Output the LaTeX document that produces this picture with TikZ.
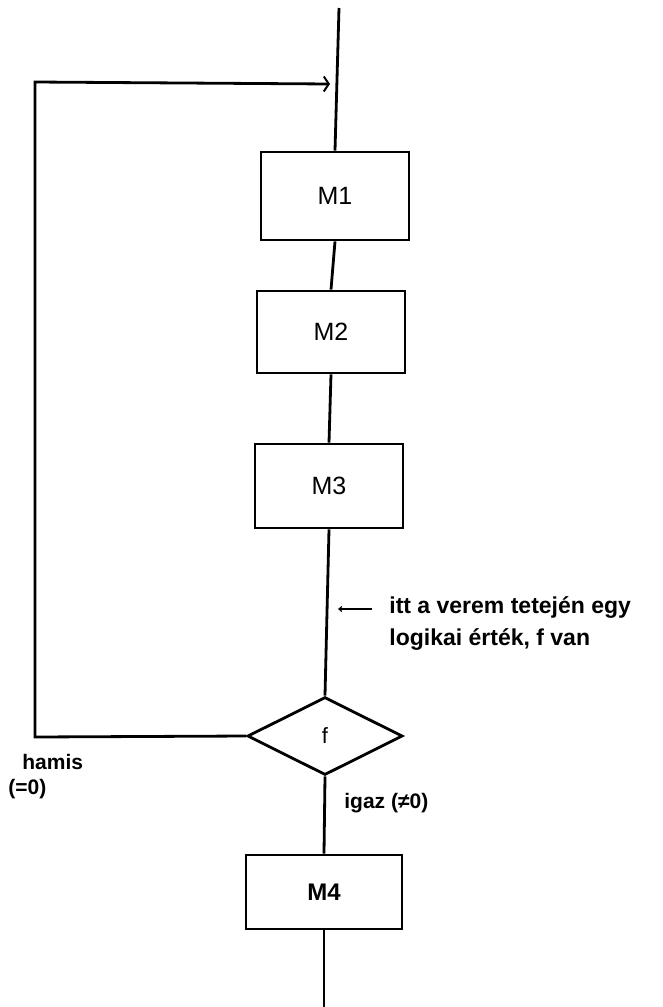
\documentclass[tikz,border=0pt]{standalone}
\usepackage{fontspec}
\setmainfont{Liberation Sans}
\usetikzlibrary{shapes.geometric,arrows.meta}
\begin{document}
\begin{tikzpicture}[x=1pt,y=-1pt,
  line width=2.8pt,
  blk/.style={draw,minimum width=148pt,minimum height=86pt,inner sep=0pt,font=\fontsize{25}{29}\selectfont},
  lbl/.style={font=\bfseries\fontsize{21}{25}\selectfont,inner sep=0pt}]
\path[use as bounding box] (0,0) rectangle (662,1007);
\coordinate (top) at (339,8);
\node[blk,minimum height=88pt] (m1) at (335,196) {M1};
\node[blk,minimum height=82pt] (m2) at (331,332) {M2};
\node[blk,minimum height=84pt] (m3) at (329,486) {M3};
\node[draw,diamond,aspect=2,minimum width=155pt,minimum height=78pt,inner sep=0pt,font=\fontsize{22}{24}\selectfont] (f) at (325,736) {f};
\node[blk,minimum width=156pt,minimum height=74pt,font=\bfseries\fontsize{24}{28}\selectfont] (m4) at (324,892) {M4};
\coordinate (bot) at (324,1007);
\coordinate (c1) at (35,737);
\coordinate (c2) at (35,82);
\coordinate (c3) at (330,84);
\draw (top) -- (m1.north);
\draw (m1.south) -- (m2.north);
\draw (m2.south) -- (m3.north);
\draw (m3.south) -- (f.north);
\draw (f.south) -- (m4.north);
\draw (m4.south) -- (bot);
\draw[-{Straight Barb[length=5pt,width=15pt,line width=2pt]}] (f.west) -- (c1) -- (c2) -- (c3);
\coordinate (a1) at (372,609);
\coordinate (a2) at (338,609);
\draw[line width=1.2pt,-{Straight Barb[length=3pt,width=5pt]}] (a1) -- (a2);
\node[lbl,anchor=west,font=\bfseries\fontsize{23}{32}\selectfont,align=left] (note) at (388,623) {itt a verem tetején egy\\logikai érték, f van};
\node[lbl,anchor=west] (hamis) at (21,762) {hamis};
\node[lbl,anchor=west] (nul) at (7,789) {(=0)};
\node[lbl,anchor=west] (igaz) at (343,803) {igaz (≠0)};
\end{tikzpicture}
\end{document}
